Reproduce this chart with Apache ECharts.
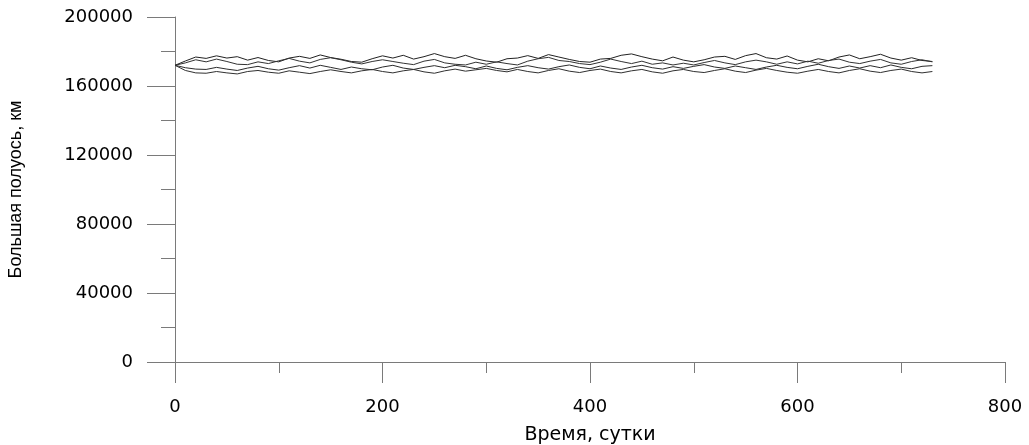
<!DOCTYPE html>
<html>
<head>
<meta charset="utf-8">
<script src="https://cdn.jsdelivr.net/npm/echarts@6/dist/echarts.min.js"></script>
<style>
html,body{margin:0;padding:0;background:#fff;}
#chart{width:1029px;height:445px;}
</style>
</head>
<body>
<div id="chart"></div>
<script>
// Days (every 10 days, 0..730)
const days = [];
for (let d = 0; d <= 730; d += 10) days.push(d);

const xTicks = [0, 200, 400, 600, 800];
const yTicks = [0, 40000, 80000, 120000, 160000, 200000];

const seriesA = [172000,174500,176800,176000,177500,176200,177000,175000,176500,174800,
174000,176200,177200,176000,178000,176500,175500,174200,173800,175800,
177500,176200,177800,175600,177000,178800,177000,176000,177800,175800,
174500,173800,175800,176200,177600,176000,178200,176800,175400,174200,
173800,175600,176000,177800,178600,177000,175600,174600,176800,175000,
174000,175200,176800,177200,175400,177600,178800,176400,175600,177400,
175000,174000,175800,174600,176800,178000,175800,177000,178400,176200,
175000,176400,174800,174200];

const seriesB = [172000,173400,175200,174000,175600,174200,172600,172400,174000,173000,
174600,176000,174400,173400,175400,176400,175200,173800,172800,174200,
175200,174200,173200,172400,174400,175400,173400,172600,172200,173800,
172600,174000,173000,172200,174400,175800,176600,174800,174200,173000,
172400,173800,175600,174200,173000,174400,172600,173400,172200,173200,
172200,173600,174800,173400,172400,174000,175000,174000,172600,174000,
172800,174400,173200,174800,175600,173800,173000,174400,175400,173400,
172600,174200,175200,174000];

const seriesC = [172000,170600,169800,169600,170800,169800,169000,170400,171400,170000,
169200,170600,171800,170400,172000,170800,169600,171000,170000,169400,
171000,172000,170400,169600,170800,171800,170600,172000,171200,170000,
171600,170200,169400,170800,171800,170600,169800,171200,172200,170800,
170000,171600,170400,169600,171000,172000,170600,169800,171200,170200,
171400,172400,171000,170200,171600,170600,169600,171000,172000,170800,
170000,171400,172600,171200,170200,171600,170400,171800,170600,172200,
170800,170000,171400,171800];

const seriesD = [172000,169000,167600,167400,168400,167600,167000,168400,169000,168000,
167400,168800,168000,167200,168400,169400,168400,167600,168800,169600,
168400,167600,168800,169600,168200,167400,168800,169800,168600,169400,
170200,169000,168200,169600,168400,167600,169000,170000,168600,167800,
169000,169800,168400,167600,168800,169600,168200,167400,168800,169600,
168400,167800,169000,170000,168600,167800,169200,170200,169000,168000,
167400,168600,169600,168400,167600,169000,170000,168600,167800,169000,
169800,168400,167600,168400];

const allSeries = [seriesA, seriesB, seriesC, seriesD];
const lineColors = ['#222222', '#333333', '#2b2b2b', '#303030'];

const axisGray = '#7a7a7a';
const textColor = '#000000';

const chart = echarts.init(document.getElementById('chart'), null, {renderer: 'canvas'});
chart.setOption({
  animation: false,
  backgroundColor: '#ffffff',
  grid: {left: 175, right: 24, top: 17, bottom: 83, containLabel: false, outerBoundsMode: 'none'},
  xAxis: {
    type: 'value',
    min: xTicks[0], max: xTicks[xTicks.length - 1], interval: 200,
    name: 'Время, сутки',
    nameLocation: 'middle',
    nameGap: 64,
    nameTextStyle: {fontFamily: 'DejaVu Sans', fontSize: 19, color: textColor},
    axisLine: {show: true, lineStyle: {color: axisGray, width: 1}},
    axisTick: {show: true, length: 21, inside: false, lineStyle: {color: axisGray}},
    minorTick: {show: true, splitNumber: 2, length: 11, lineStyle: {color: axisGray}},
    axisLabel: {margin: 36, fontFamily: 'DejaVu Sans', fontSize: 18, color: textColor,
      formatter: v => String(v)},
    splitLine: {show: false}
  },
  yAxis: {
    type: 'value',
    min: yTicks[0], max: yTicks[yTicks.length - 1], interval: 40000,
    name: 'Большая полуось, км',
    nameLocation: 'middle',
    nameGap: 150,
    nameRotate: 90,
    nameTextStyle: {fontFamily: 'Liberation Sans', fontSize: 18, color: textColor},
    axisLine: {show: true, lineStyle: {color: axisGray, width: 1}},
    axisTick: {show: true, length: 28, inside: false, lineStyle: {color: axisGray}},
    minorTick: {show: true, splitNumber: 2, length: 14, lineStyle: {color: axisGray}},
    axisLabel: {margin: 42, fontFamily: 'DejaVu Sans', fontSize: 18, color: textColor,
      formatter: v => String(v)},
    splitLine: {show: false}
  },
  series: allSeries.map((vals, i) => ({
    type: 'line',
    data: days.map((d, j) => [d, vals[j]]),
    showSymbol: false,
    symbol: 'none',
    lineStyle: {color: lineColors[i], width: 1},
    silent: true
  }))
});
</script>
</body>
</html>
